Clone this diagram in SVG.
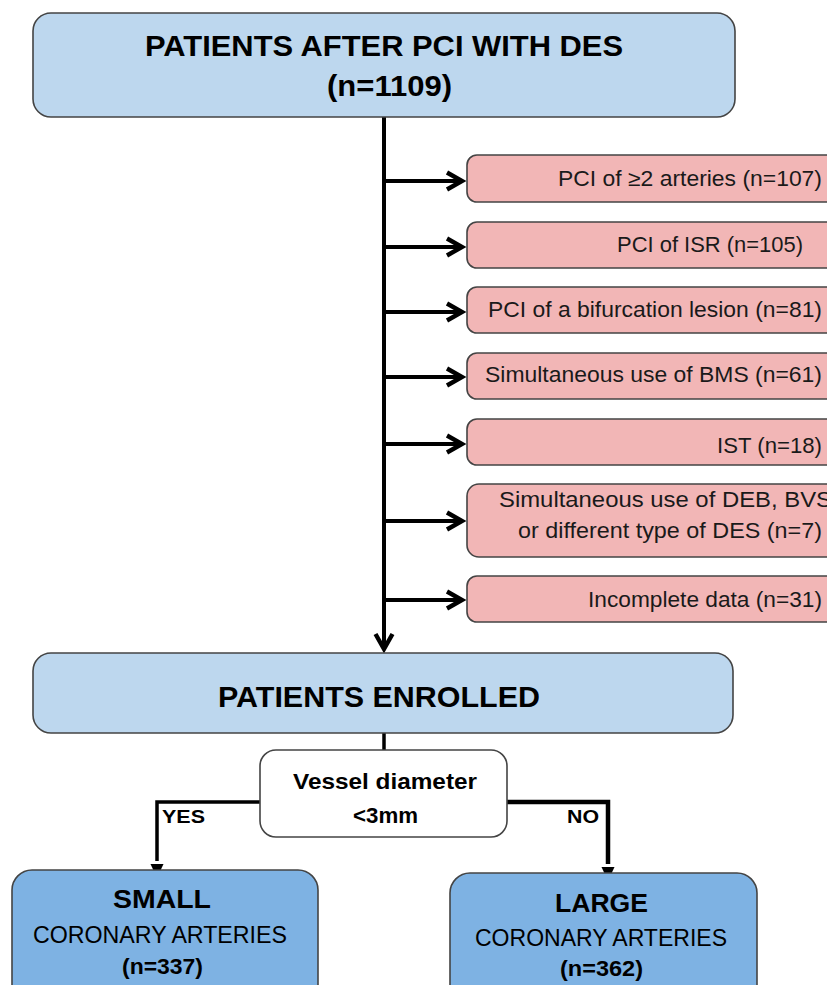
<svg xmlns="http://www.w3.org/2000/svg" width="827" height="985" viewBox="0 0 827 985">
<style>
  text { font-family: "Liberation Sans", Arial, sans-serif; fill: #000; }
  .b { font-weight: bold; }
  .box { stroke: #444; stroke-width: 1.6; }
  .blue { fill: #BDD7EE; }
  .pink { fill: #F2B6B6; }
  .mid { fill: #7EB2E3; }
  .white { fill: #FFFFFF; }
  .rt { font-size: 21.5px; fill: #1a1a1a; }
  .ln { fill: none; stroke: #000; }
</style>
<defs>
  <marker id="chev" viewBox="-20 -12 26 24" refX="0" refY="0" markerWidth="26" markerHeight="24" orient="auto" markerUnits="userSpaceOnUse" overflow="visible">
    <path d="M-15,-8.5 L0,0 L-15,8.5" fill="none" stroke="#000" stroke-width="4.4"/>
  </marker>
  <marker id="tri" viewBox="-4 -8 16 16" refX="-8" refY="0" markerWidth="16" markerHeight="16" orient="auto" markerUnits="userSpaceOnUse" overflow="visible">
    <path d="M-5,-6.5 L9,0 L-5,6.5 Z" fill="#000"/>
  </marker>
</defs>

<g id="connectors">
  <line class="ln" x1="384" y1="117" x2="384" y2="649" stroke-width="4" marker-end="url(#chev)"/>
  <line class="ln" x1="384" y1="181" x2="462" y2="181" stroke-width="4" marker-end="url(#chev)"/>
  <line class="ln" x1="384" y1="247" x2="462" y2="247" stroke-width="4" marker-end="url(#chev)"/>
  <line class="ln" x1="384" y1="312" x2="462" y2="312" stroke-width="4" marker-end="url(#chev)"/>
  <line class="ln" x1="384" y1="377" x2="462" y2="377" stroke-width="4" marker-end="url(#chev)"/>
  <line class="ln" x1="384" y1="444" x2="462" y2="444" stroke-width="4" marker-end="url(#chev)"/>
  <line class="ln" x1="384" y1="521" x2="462" y2="521" stroke-width="4" marker-end="url(#chev)"/>
  <line class="ln" x1="384" y1="600" x2="462" y2="600" stroke-width="4" marker-end="url(#chev)"/>
  <line class="ln" x1="384" y1="733" x2="384" y2="750" stroke-width="3.5"/>
  <polyline class="ln" points="260,802 157,802 157,861" stroke-width="3.5" marker-end="url(#tri)"/>
  <polyline class="ln" points="507,802 608,802 608,864" stroke-width="4.5" marker-end="url(#tri)"/>
  <text class="b" x="162" y="823" font-size="18" textLength="43" lengthAdjust="spacingAndGlyphs">YES</text>
  <text class="b" x="567" y="823" font-size="18" textLength="32" lengthAdjust="spacingAndGlyphs">NO</text>
</g>

<g id="start">
  <rect class="box blue" x="33" y="13" width="702" height="104" rx="18"/>
  <text class="b" x="145" y="56" font-size="29.5" textLength="478" lengthAdjust="spacingAndGlyphs">PATIENTS  AFTER PCI WITH DES</text>
  <text class="b" x="327" y="96" font-size="29.5" textLength="125" lengthAdjust="spacingAndGlyphs">(n=1109)</text>
</g>

<g id="ex1">
  <rect class="box pink" x="467" y="155" width="400" height="47" rx="10"/>
  <text class="rt" x="558" y="186" textLength="264" lengthAdjust="spacingAndGlyphs">PCI of ≥2 arteries (n=107)</text>
</g>
<g id="ex2">
  <rect class="box pink" x="467" y="222" width="400" height="46" rx="10"/>
  <text class="rt" x="617" y="252" textLength="186" lengthAdjust="spacingAndGlyphs">PCI of ISR (n=105)</text>
</g>
<g id="ex3">
  <rect class="box pink" x="467" y="287" width="400" height="46" rx="10"/>
  <text class="rt" x="488" y="317" textLength="334" lengthAdjust="spacingAndGlyphs">PCI of a bifurcation lesion (n=81)</text>
</g>
<g id="ex4">
  <rect class="box pink" x="467" y="353" width="400" height="46" rx="10"/>
  <text class="rt" x="485" y="382" textLength="337" lengthAdjust="spacingAndGlyphs">Simultaneous  use of BMS (n=61)</text>
</g>
<g id="ex5">
  <rect class="box pink" x="467" y="419" width="400" height="46" rx="10"/>
  <text class="rt" x="717" y="453" textLength="105" lengthAdjust="spacingAndGlyphs">IST  (n=18)</text>
</g>
<g id="ex6">
  <rect class="box pink" x="467" y="484" width="400" height="73" rx="12"/>
  <text class="rt" x="499" y="507" textLength="333" lengthAdjust="spacingAndGlyphs">Simultaneous  use of DEB, BVS</text>
  <text class="rt" x="518" y="538" textLength="304" lengthAdjust="spacingAndGlyphs">or different type of DES  (n=7)</text>
</g>
<g id="ex7">
  <rect class="box pink" x="467" y="576" width="400" height="46" rx="10"/>
  <text class="rt" x="588" y="607" textLength="234" lengthAdjust="spacingAndGlyphs">Incomplete  data (n=31)</text>
</g>

<g id="enrolled">
  <rect class="box blue" x="33" y="653" width="700" height="80" rx="18"/>
  <text class="b" x="218" y="707" font-size="29.5" textLength="322" lengthAdjust="spacingAndGlyphs">PATIENTS  ENROLLED</text>
</g>

<g id="decision">
  <rect class="box white" x="260" y="750" width="247" height="87" rx="16"/>
  <text class="b" x="293" y="789" font-size="22" textLength="184" lengthAdjust="spacingAndGlyphs">Vessel  diameter</text>
  <text class="b" x="353" y="823" font-size="22" textLength="65" lengthAdjust="spacingAndGlyphs">&lt;3mm</text>
</g>

<g id="small">
  <rect class="box mid" x="12" y="870" width="306" height="140" rx="20"/>
  <text class="b" x="113" y="908" font-size="26" textLength="98" lengthAdjust="spacingAndGlyphs">SMALL</text>
  <text x="33" y="943" font-size="23" fill="#1a1a1a" textLength="254" lengthAdjust="spacingAndGlyphs">CORONARY ARTERIES</text>
  <text class="b" x="122" y="974" font-size="22" textLength="81" lengthAdjust="spacingAndGlyphs">(n=337)</text>
</g>

<g id="large">
  <rect class="box mid" x="450" y="873" width="307" height="140" rx="20"/>
  <text class="b" x="555" y="912" font-size="26" textLength="93" lengthAdjust="spacingAndGlyphs">LARGE</text>
  <text x="475" y="946" font-size="23" fill="#1a1a1a" textLength="252" lengthAdjust="spacingAndGlyphs">CORONARY ARTERIES</text>
  <text class="b" x="560" y="976" font-size="22" textLength="83" lengthAdjust="spacingAndGlyphs">(n=362)</text>
</g>
</svg>
